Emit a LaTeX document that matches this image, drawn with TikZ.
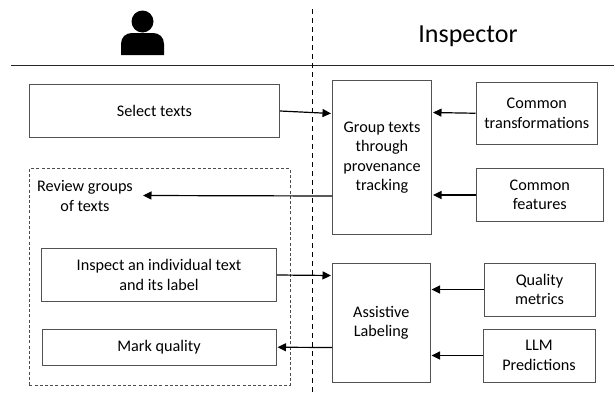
\documentclass[tikz,border=0pt]{standalone}
\usepackage{fontspec}
\setmainfont{Carlito}
\usetikzlibrary{arrows.meta}
\tikzset{
  x=1pt,y=-1pt,
  boxnode/.style={draw=black!68,line width=1pt,align=center,inner sep=0pt,font=\fontsize{16.2}{19.3}\selectfont},
  lbl/.style={align=center,inner sep=0pt,font=\fontsize{16.2}{19.3}\selectfont},
  conn/.style={draw=black,line width=1.2pt,-{Triangle[length=8.5pt,width=8pt]},shorten >=1pt},
  sepline/.style={draw=black!85,line width=1pt},
  lane/.style={draw=black,line width=1.2pt,dash pattern=on 5pt off 4pt},
  frame/.style={draw=black!70,line width=0.9pt,dash pattern=on 3pt off 2.2pt}
}
\newcommand{\bx}[6]{\node[boxnode,minimum width=#4 pt-#2 pt,minimum height=#5 pt-#3 pt,anchor=north west] (#1) at (#2,#3) {#6};}
\begin{document}
\begin{tikzpicture}
\useasboundingbox (0,0) rectangle (614,394);
% person
\fill[black] (142.5,21.5) circle (11);
\fill[black] (121,55) -- (121,44) .. controls (121,37) and (126,33) .. (132,33) -- (153,33) .. controls (159,33) and (164,37) .. (164,44) -- (164,55) -- cycle;
\node[inner sep=0pt,font=\fontsize{26}{30}\selectfont] (title) at (468,36) {Inspector};
\coordinate (hl) at (11,65); \coordinate (hr) at (614,65);
\coordinate (vt) at (312.5,9); \coordinate (vb) at (312.5,392);
\draw[sepline] (hl) -- (hr);
\draw[lane] (vt) -- (vb);
\node[frame,minimum width=260.5pt,minimum height=217pt,anchor=north west,inner sep=0pt] (review) at (29,168) {};
\bx{sel}{29}{84}{279}{137}{Select texts}
\bx{insp}{41}{248}{276}{301}{Inspect an individual text\\and its label}
\bx{mark}{41.5}{328.5}{275.5}{365}{Mark quality}
\bx{grp}{332}{80}{431}{234}{Group texts\\through\\provenance\\tracking}
\bx{asst}{332}{262.5}{429.5}{381.5}{Assistive\\Labeling}
\bx{ctr}{475.5}{81.5}{597}{144}{Common\\transformations}
\bx{cft}{476}{168}{602.5}{221}{Common\\features}
\bx{qm}{483.5}{262.5}{594.5}{315.5}{Quality\\metrics}
\bx{llm}{482.5}{328.5}{594.5}{381.5}{LLM\\Predictions}
\node[lbl] (rtx) at (85,196) {Review groups\\of texts};
\draw[conn] (sel.east) -- ([yshift=44pt]grp.west);
\draw[conn] ([yshift=-38.5pt]grp.west) -- (142,195.5) coordinate (rend);
\draw[conn] (insp.east) -- ([yshift=47pt]asst.west);
\draw[conn] ([yshift=-25pt]asst.west) -- ([yshift=0pt]mark.east);
\draw[conn] (ctr.west) -- ([yshift=45pt]grp.east);
\draw[conn] ([yshift=0pt]cft.west) -- ([yshift=-37.5pt]grp.east);
\draw[conn] (qm.west) -- ([yshift=33pt]asst.east);
\draw[conn] (llm.west) -- ([yshift=-33pt]asst.east);
\end{tikzpicture}
\end{document}
